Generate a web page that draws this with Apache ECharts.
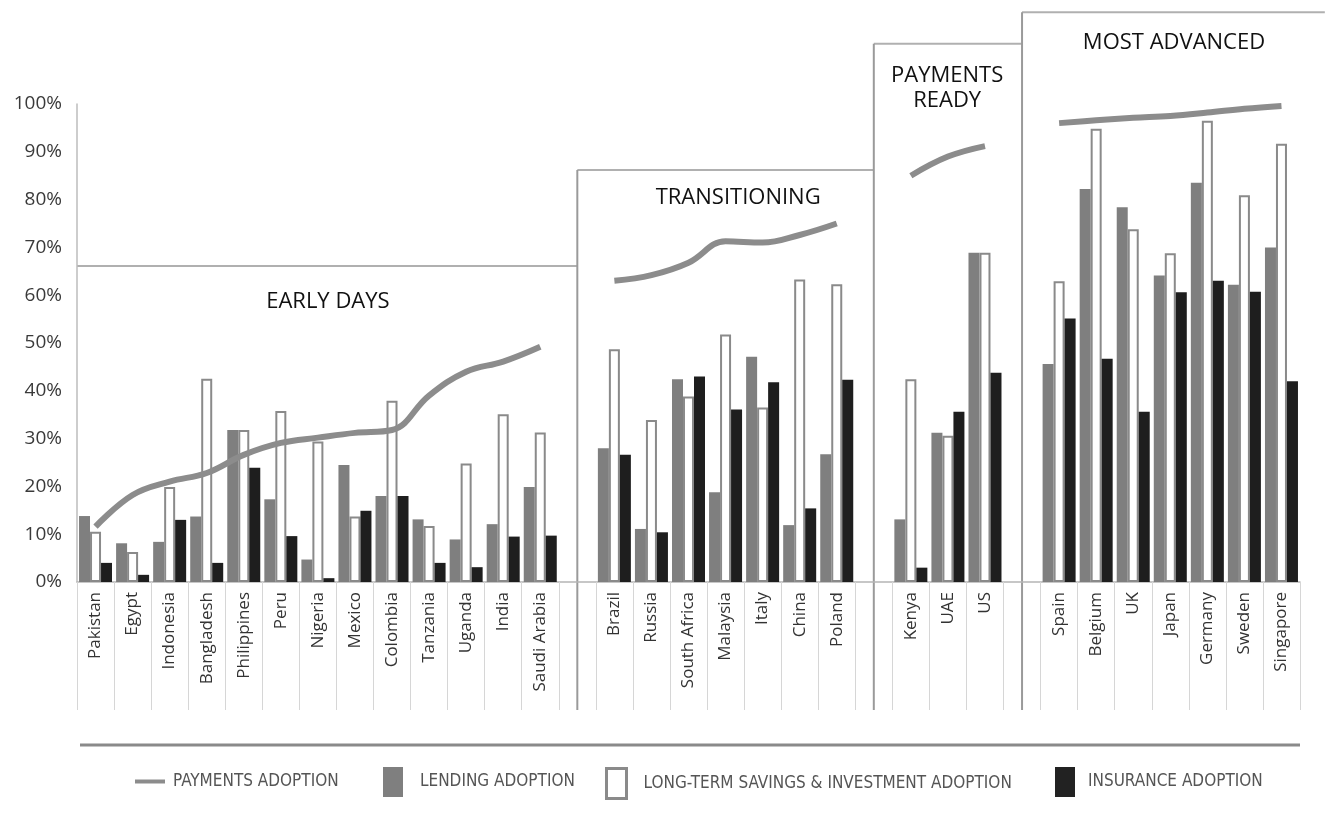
<!DOCTYPE html>
<html>
<head>
<meta charset="utf-8">
<script src="https://cdn.jsdelivr.net/npm/echarts@6/dist/echarts.min.js"></script>
<style>
html,body{margin:0;padding:0;background:#fff;}
#chart{width:1327px;height:819px;}
</style>
</head>
<body>
<div id="chart"></div>
<script>
// ---- data (empty string / null = gap between groups) ----
const categories = ['Pakistan','Egypt','Indonesia','Bangladesh','Philippines','Peru','Nigeria','Mexico','Colombia','Tanzania','Uganda','India','Saudi Arabia','',
  'Brazil','Russia','South Africa','Malaysia','Italy','China','Poland','',
  'Kenya','UAE','US','',
  'Spain','Belgium','UK','Japan','Germany','Sweden','Singapore'];
const payments  = [11.6,18.2,21.0,22.8,26.6,29.1,30.2,31.2,31.8,39.0,44.0,46.1,49.2,null,
  63.0,64.2,66.8,71.3,71.0,72.6,75.0,null,
  85.0,89.0,91.2,null,
  96.0,96.6,97.1,97.5,98.2,99.0,99.6];
const lending   = [13.8,8.1,8.4,13.7,31.8,17.3,4.7,24.5,18.0,13.1,8.9,12.1,19.9,null,
  28.0,11.1,42.4,18.8,47.1,11.9,26.7,null,
  13.1,31.2,68.9,null,
  45.6,82.2,78.4,64.1,83.5,62.2,70.0];
const savings   = [10.5,6.3,19.9,42.5,31.8,35.8,29.4,13.7,37.9,11.7,24.8,35.1,31.3,null,
  48.7,33.9,38.8,51.8,36.5,63.3,62.3,null,
  42.4,30.6,68.9,null,
  62.9,94.8,73.8,68.8,96.5,80.9,91.7];
const insurance = [4.0,1.5,13.0,4.0,23.9,9.6,0.8,14.9,18.0,4.0,3.1,9.5,9.7,null,
  26.6,10.4,43.0,36.1,41.8,15.4,42.3,null,
  3.0,35.6,43.8,null,
  55.1,46.7,35.6,60.6,63.0,60.7,42.0];
const groupNames = ['EARLY DAYS','TRANSITIONING','PAYMENTS\nREADY','MOST ADVANCED'];
const seriesNames = ['PAYMENTS ADOPTION','LENDING ADOPTION','LONG-TERM SAVINGS & INVESTMENT ADOPTION','INSURANCE ADOPTION'];

// ---- layout (annotation geometry, in axis units) ----
const gapIdx = [13, 21, 25];
const boxTops = [66.1, 86.2, 112.6, 119.2];
const titlePos = [[6.27, 58.6], [17.34, 80.3], [22.98, 103.4], [29.1, 112.8]];
const tickLen = 128;

const legendFont = "'Liberation Sans Narrow','DejaVu Sans Condensed','Arial Narrow',sans-serif";
const baseFont = "'Open Sans','Noto Sans',sans-serif";

const chart = echarts.init(document.getElementById('chart'));
const legendText = {fontFamily: legendFont, fontSize: 17, color: '#555'};
chart.setOption({
  animation: false,
  backgroundColor: '#fff',
  grid: {left: 77, right: 27, top: 104, bottom: 237},
  legend: [
    {left: 135, top: 773, padding: 0, itemWidth: 30, itemHeight: 4, textStyle: Object.assign({padding: [0,0,0,3]}, legendText),
     data: [{name: seriesNames[0], icon: 'rect', itemStyle: {color: '#8c8c8c'}}]},
    {left: 383, top: 767, padding: 0, itemWidth: 20, itemHeight: 30, textStyle: Object.assign({padding: [0,0,0,12]}, legendText),
     data: [{name: seriesNames[1], icon: 'rect', itemStyle: {color: '#7f7f7f'}}]},
    {left: 605, top: 767, padding: 0, itemWidth: 20, itemHeight: 30, textStyle: Object.assign({padding: [0,0,0,12]}, legendText),
     data: [{name: seriesNames[2], icon: 'rect', itemStyle: {color: '#fff', borderColor: '#8a8a8a', borderWidth: 3}}]},
    {left: 1055, top: 767, padding: 0, itemWidth: 20, itemHeight: 30, textStyle: Object.assign({padding: [0,0,0,8]}, legendText),
     data: [{name: seriesNames[3], icon: 'rect', itemStyle: {color: '#222'}}]}
  ],
  xAxis: {
    type: 'category', data: categories,
    axisLine: {lineStyle: {color: '#b5b5b5', width: 1.5}},
    axisTick: {show: true, interval: 0, length: tickLen, lineStyle: {color: '#d6d6d6', width: 1}},
    axisLabel: {interval: 0, rotate: 90, fontFamily: baseFont, fontSize: 17, color: '#333', margin: 10},
    splitLine: {show: false}
  },
  yAxis: {
    type: 'value', min: 0, max: 100, interval: 10,
    axisLine: {show: true, lineStyle: {color: '#bdbdbd', width: 1.5}},
    axisTick: {show: false},
    splitLine: {show: false},
    axisLabel: {formatter: '{value}%', fontFamily: baseFont, fontSize: 19, color: '#3a3a3a', margin: 15, padding: [9,0,0,0]}
  },
  series: [
    {name: seriesNames[0], type: 'line', data: payments, smooth: 0.4, symbol: 'none', connectNulls: false, clip: false, z: 5,
     lineStyle: {color: '#8c8c8c', width: 6}, itemStyle: {color: '#8c8c8c'}},
    {name: seriesNames[1], type: 'bar', data: lending, barWidth: 11, barGap: '0%', itemStyle: {color: '#7f7f7f'}},
    {name: seriesNames[2], type: 'bar', data: savings, barWidth: 11, barGap: '0%', itemStyle: {color: '#fff', borderColor: '#8a8a8a', borderWidth: 2}},
    {name: seriesNames[3], type: 'bar', data: insurance, barWidth: 11, barGap: '0%', itemStyle: {color: '#1e1e1e'}}
  ]
});

// ---- group boxes and titles ----
const x0 = chart.convertToPixel({xAxisIndex: 0}, 0);
const x1 = chart.convertToPixel({xAxisIndex: 0}, 1);
const step = x1 - x0;
const px = i => x0 + i * step;
const py = v => chart.convertToPixel({yAxisIndex: 0}, v);
const bottom = py(0) + tickLen;
const lineStyle = {stroke: '#b0b0b0', lineWidth: 2};
const g = [];
const lefts = [-0.5, gapIdx[0], gapIdx[1], gapIdx[2]];
const rights = [gapIdx[0], gapIdx[1], gapIdx[2], categories.length - 0.5 + 0.67];
for (let k = 0; k < 4; k++) {
  g.push({type: 'line', shape: {x1: px(lefts[k]), y1: py(boxTops[k]), x2: px(rights[k]), y2: py(boxTops[k])}, style: lineStyle, silent: true});
}
for (let k = 0; k < 3; k++) {
  const top = Math.max(boxTops[k], boxTops[k + 1]);
  g.push({type: 'line', shape: {x1: px(gapIdx[k]), y1: py(top), x2: px(gapIdx[k]), y2: bottom}, style: {stroke: '#9a9a9a', lineWidth: 2}, silent: true});
}
for (let k = 0; k < 4; k++) {
  g.push({type: 'text', silent: true, style: {text: groupNames[k], x: px(titlePos[k][0]), y: py(titlePos[k][1]),
    align: 'center', verticalAlign: 'middle', fontFamily: baseFont, fontSize: 22, lineHeight: 25, fill: '#111'}});
}
g.push({type: 'line', shape: {x1: px(-0.5) + 3, y1: bottom + 35, x2: px(categories.length - 0.5), y2: bottom + 35}, style: {stroke: '#8a8a8a', lineWidth: 3}, silent: true});
chart.setOption({graphic: g});
</script>
</body>
</html>
